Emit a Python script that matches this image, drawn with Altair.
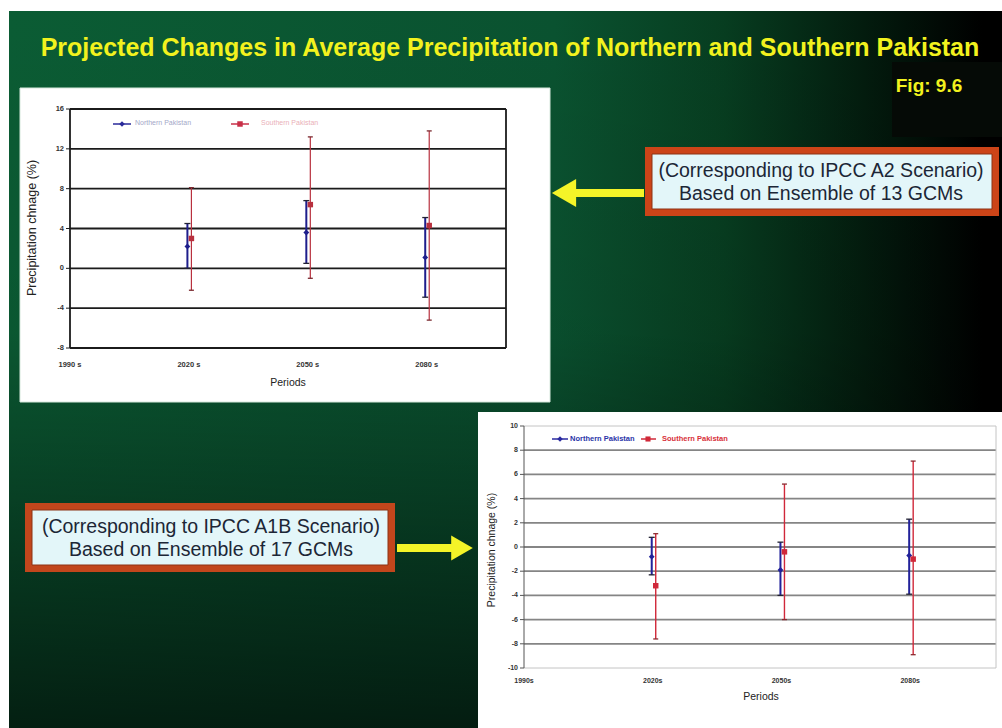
import altair as alt
import pandas as pd

# ---------------- text on the slide ----------------
title_text = "Projected Changes in Average Precipitation of Northern and Southern Pakistan"
fig_label = "Fig: 9.6"
a2_note = ["(Corresponding to IPCC A2 Scenario)", "Based on Ensemble of 13 GCMs"]
a1b_note = ["(Corresponding to IPCC A1B Scenario)", "Based on Ensemble of 17 GCMs"]
y_title = "Precipitation chnage (%)"
x_title = "Periods"
series_names = ["Northern Pakistan", "Southern Pakistan"]

# ---------------- categories / ticks ----------------
period_years = [2020, 2050, 2080]
tick_years = [1990, 2020, 2050, 2080]
a2_tick_labels = ["1990 s", "2020 s", "2050 s", "2080 s"]
a1b_tick_labels = ["1990s", "2020s", "2050s", "2080s"]
a2_y_ticks = [-8, -4, 0, 4, 8, 12, 16]
a1b_y_ticks = [-10, -8, -6, -4, -2, 0, 2, 4, 6, 8, 10]

# ---------------- A2 scenario, 13 GCMs (% change) ----------------
a2_north_mean = [2.2, 3.6, 1.1]
a2_north_low = [0.0, 0.5, -2.9]
a2_north_high = [4.5, 6.8, 5.1]
a2_south_mean = [3.0, 6.4, 4.3]
a2_south_low = [-2.2, -1.0, -5.2]
a2_south_high = [8.1, 13.2, 13.8]

# ---------------- A1B scenario, 17 GCMs (% change) ----------------
a1b_north_mean = [-0.8, -1.9, -0.7]
a1b_north_low = [-2.3, -4.0, -3.9]
a1b_north_high = [0.8, 0.4, 2.3]
a1b_south_mean = [-3.2, -0.4, -1.0]
a1b_south_low = [-7.6, -6.0, -8.9]
a1b_south_high = [1.1, 5.2, 7.1]

FONT = "Liberation Sans"
W, H = 1002, 728


def one_row(**kw):
    return pd.DataFrame([kw if kw else {"k": 0}])


def box(x0, x1, y0, y1, **mark):
    return alt.Chart(one_row()).mark_rect(**mark).encode(
        x=alt.value(x0), x2=alt.value(x1), y=alt.value(y0), y2=alt.value(y1)
    )


def label(text, x, y, **mark):
    return alt.Chart(one_row(t=text)).mark_text(font=FONT, **mark).encode(
        x=alt.value(x), y=alt.value(y), text="t:N"
    )


def series_frame(mean, low, high):
    return pd.DataFrame({"year": period_years, "mean": mean, "low": low, "high": high})


def panel(cfg):
    xs = alt.Scale(domain=[1990, 2100], range=cfg["x_range"], nice=False, zero=False)
    ys = alt.Scale(domain=cfg["y_domain"], range=cfg["y_range"], nice=False, zero=False)

    def X(f):
        return alt.X(f, type="quantitative", scale=xs, axis=None)

    def Y(f):
        return alt.Y(f, type="quantitative", scale=ys, axis=None)

    def XD(v):
        return alt.XDatum(v, type="quantitative", scale=xs, axis=None)

    def YD(v):
        return alt.YDatum(v, type="quantitative", scale=ys, axis=None)

    lo, hi = cfg["y_domain"]
    ticks = pd.DataFrame({"v": cfg["y_ticks"], "lab": [str(t) for t in cfg["y_ticks"]]})
    inner = ticks[(ticks.v > lo) & (ticks.v < hi)]
    xt = pd.DataFrame({"year": tick_years, "lab": cfg["x_labels"]})

    layers = []
    # horizontal gridlines
    layers.append(alt.Chart(inner).mark_rule(color=cfg["grid"], strokeWidth=cfg["grid_w"]).encode(
        y=Y("v"), x=XD(1990), x2=alt.datum(2100)))
    # plot frame
    layers.append(alt.Chart(pd.DataFrame({"v": [lo, hi]})).mark_rule(
        color=cfg["frame"], strokeWidth=cfg["frame_w"]).encode(y=Y("v"), x=XD(1990), x2=alt.datum(2100)))
    layers.append(alt.Chart(pd.DataFrame({"year": [2100]})).mark_rule(
        color=cfg["frame"], strokeWidth=cfg["frame_w"]).encode(x=X("year"), y=YD(lo), y2=alt.datum(hi)))
    # value axis line, ticks and labels
    layers.append(alt.Chart(pd.DataFrame({"year": [1990]})).mark_rule(
        color=cfg["axis"], strokeWidth=cfg["axis_w"]).encode(x=X("year"), y=YD(lo), y2=alt.datum(hi)))
    layers.append(alt.Chart(ticks).mark_point(
        shape="stroke", size=16, color=cfg["axis"], strokeWidth=1, xOffset=-2, opacity=1).encode(
        x=XD(1990), y=Y("v")))
    layers.append(alt.Chart(ticks).mark_text(
        font=FONT, fontSize=cfg["tick_fs"], fontWeight="bold", color="#333333", align="right",
        baseline="middle", dx=-6).encode(x=XD(1990), y=Y("v"), text="lab:N"))
    # period labels
    layers.append(alt.Chart(xt).mark_text(
        font=FONT, fontSize=cfg["tick_fs"], fontWeight="bold", color="#333333", align="center",
        baseline="middle", dy=cfg["xlab_dy"]).encode(x=X("year"), y=YD(lo), text="lab:N"))

    def draw(df, color, width, cap_color, cap_w, shape, msize, off):
        base = alt.Chart(df)
        return [
            base.mark_rule(color=color, strokeWidth=width, xOffset=off).encode(
                x=X("year"), y=Y("low"), y2=alt.Y2("high")),
            base.mark_point(shape="stroke", size=cap_w ** 2, color=cap_color, strokeWidth=1.3,
                            xOffset=off, opacity=1).encode(x=X("year"), y=Y("low")),
            base.mark_point(shape="stroke", size=cap_w ** 2, color=cap_color, strokeWidth=1.3,
                            xOffset=off, opacity=1).encode(x=X("year"), y=Y("high")),
            base.mark_point(shape=shape, filled=True, size=msize, color=color, xOffset=off,
                            opacity=1).encode(x=X("year"), y=Y("mean")),
        ]

    layers += draw(cfg["north"], cfg["blue"], 2, cfg["cap"], 6, "diamond", 34, cfg["off_n"])
    layers += draw(cfg["south"], cfg["red"], cfg["red_w"], cfg["red_cap"], 5, "square", 30, cfg["off_s"])
    return alt.layer(*layers)


a2_cfg = dict(
    x_range=[70, 506], y_domain=[-8, 16], y_range=[348, 109], y_ticks=a2_y_ticks,
    x_labels=a2_tick_labels, grid="#1b1b1b", grid_w=1.8, frame="#1b1b1b", frame_w=1.8,
    axis="#1b1b1b", axis_w=1.8, xlab_dy=17, tick_fs=7.5,
    north=series_frame(a2_north_mean, a2_north_low, a2_north_high),
    south=series_frame(a2_south_mean, a2_south_low, a2_south_high),
    blue="#1e1e8c", red="#b8303e", red_w=1.2, cap="#222233", red_cap="#7a2a30",
    off_n=-1.5, off_s=2.5,
)
a1b_cfg = dict(
    x_range=[524, 996], y_domain=[-10, 10], y_range=[668, 426], y_ticks=a1b_y_ticks,
    x_labels=a1b_tick_labels, grid="#858585", grid_w=1.8, frame="#c4c4c4", frame_w=1,
    axis="#555555", axis_w=1, xlab_dy=13, tick_fs=7,
    north=series_frame(a1b_north_mean, a1b_north_low, a1b_north_high),
    south=series_frame(a1b_south_mean, a1b_south_low, a1b_south_high),
    blue="#22229a", red="#d0283a", red_w=1.4, cap="#222233", red_cap="#8a2a30",
    off_n=-1, off_s=3,
)

# ---------------- slide background ----------------
slide = box(9, W, 11, H, color=alt.LinearGradient(
    gradient="linear", x1=0, y1=0, x2=1, y2=0,
    stops=[
        alt.GradientStop(color="#0b5c34", offset=0),
        alt.GradientStop(color="#0a5230", offset=0.55),
        alt.GradientStop(color="#073d20", offset=0.72),
        alt.GradientStop(color="#031c0e", offset=0.86),
        alt.GradientStop(color="#000000", offset=0.98),
    ]))
shade = box(9, W, 11, H, color=alt.LinearGradient(
    gradient="linear", x1=0, y1=0, x2=0, y2=1,
    stops=[
        alt.GradientStop(color="rgba(0,0,0,0)", offset=0),
        alt.GradientStop(color="rgba(0,0,0,0.06)", offset=0.45),
        alt.GradientStop(color="rgba(0,0,0,0.66)", offset=1),
    ]))
fig_box = box(892, W, 62, 137, color="#050a06")

title = label(title_text, 510, 48, fontSize=25, fontWeight="bold", color="#f2f21e",
              align="center", baseline="middle")
fig = label(fig_label, 929, 86, fontSize=19, fontWeight="bold", color="#f2f21e",
            align="center", baseline="middle")

# ---------------- chart cards ----------------
card1 = box(20, 550, 88, 402, color="#ffffff", stroke="#d6e8dc", strokeWidth=1)
card2 = box(478, W, 412, H, color="#ffffff")

card1_text = [
    label(y_title, 32, 228, fontSize=12.5, angle=270, color="#222222", align="center", baseline="middle"),
    label(x_title, 288, 383, fontSize=10.5, color="#222222", align="center", baseline="middle"),
    # legend
    alt.Chart(one_row()).mark_rule(color="#2a2a9a", strokeWidth=1.5).encode(
        x=alt.value(113), x2=alt.value(131), y=alt.value(124)),
    alt.Chart(one_row()).mark_point(shape="diamond", filled=True, size=30, color="#2a2a9a", opacity=1).encode(
        x=alt.value(122), y=alt.value(124)),
    label(series_names[0], 135, 123, fontSize=7, color="#a4a8c8", align="left", baseline="middle"),
    alt.Chart(one_row()).mark_rule(color="#c83048", strokeWidth=1.5).encode(
        x=alt.value(231), x2=alt.value(249), y=alt.value(124)),
    alt.Chart(one_row()).mark_point(shape="square", filled=True, size=30, color="#c83048", opacity=1).encode(
        x=alt.value(240), y=alt.value(124)),
    label(series_names[1], 261, 123, fontSize=7, color="#eab0b8", align="left", baseline="middle"),
]

card2_text = [
    label(y_title, 492, 550, fontSize=10.5, angle=270, color="#222222", align="center", baseline="middle"),
    label(x_title, 761, 697, fontSize=10.5, color="#222222", align="center", baseline="middle"),
    alt.Chart(one_row()).mark_rule(color="#2a2aa0", strokeWidth=1.5).encode(
        x=alt.value(552), x2=alt.value(568), y=alt.value(439)),
    alt.Chart(one_row()).mark_point(shape="diamond", filled=True, size=30, color="#2a2aa0", opacity=1).encode(
        x=alt.value(560), y=alt.value(439)),
    label(series_names[0], 570, 439, fontSize=7.5, fontWeight="bold", color="#2a34a8", align="left",
          baseline="middle"),
    alt.Chart(one_row()).mark_rule(color="#d02838", strokeWidth=1.5).encode(
        x=alt.value(641), x2=alt.value(656), y=alt.value(439)),
    alt.Chart(one_row()).mark_point(shape="square", filled=True, size=26, color="#d02838", opacity=1).encode(
        x=alt.value(648), y=alt.value(439)),
    label(series_names[1], 662, 439, fontSize=7.5, fontWeight="bold", color="#d8303a", align="left",
          baseline="middle"),
]

# ---------------- callouts and arrows ----------------
ARROW = "#f4f428"
callout1 = [
    box(645, 999, 147, 216, color="#cc4418"),
    box(652, 992, 154, 209, color="#e3f6f9", stroke="#8c3214", strokeWidth=1),
    label(a2_note[0], 821, 171, fontSize=19.5, color="#1c2636", align="center", baseline="middle"),
    label(a2_note[1], 821, 194, fontSize=19.5, color="#1c2636", align="center", baseline="middle"),
    box(572, 644, 189, 197, color=ARROW),
    alt.Chart(one_row()).mark_point(shape="triangle-left", filled=True, size=784, color=ARROW,
                                    opacity=1).encode(x=alt.value(564), y=alt.value(193)),
]
callout2 = [
    box(25, 395, 503, 572, color="#c2461c"),
    box(32, 388, 510, 565, color="#e3f6f9", stroke="#8c3214", strokeWidth=1),
    label(a1b_note[0], 211, 527, fontSize=19.5, color="#1c2636", align="center", baseline="middle"),
    label(a1b_note[1], 211, 550, fontSize=19.5, color="#1c2636", align="center", baseline="middle"),
    box(397, 454, 544, 552, color=ARROW),
    alt.Chart(one_row()).mark_point(shape="triangle-right", filled=True, size=625, color=ARROW,
                                    opacity=1).encode(x=alt.value(462), y=alt.value(548)),
]

chart = alt.layer(
    slide, shade, fig_box, title, fig,
    card1, panel(a2_cfg), *card1_text,
    card2, panel(a1b_cfg), *card2_text,
    *callout1, *callout2,
).resolve_scale(x="independent", y="independent").properties(
    width=W, height=H, padding=0, autosize="none", background="#ffffff"
).configure_view(stroke=None)

chart.save("out.html", embed_options={"renderer": "svg", "actions": False})
